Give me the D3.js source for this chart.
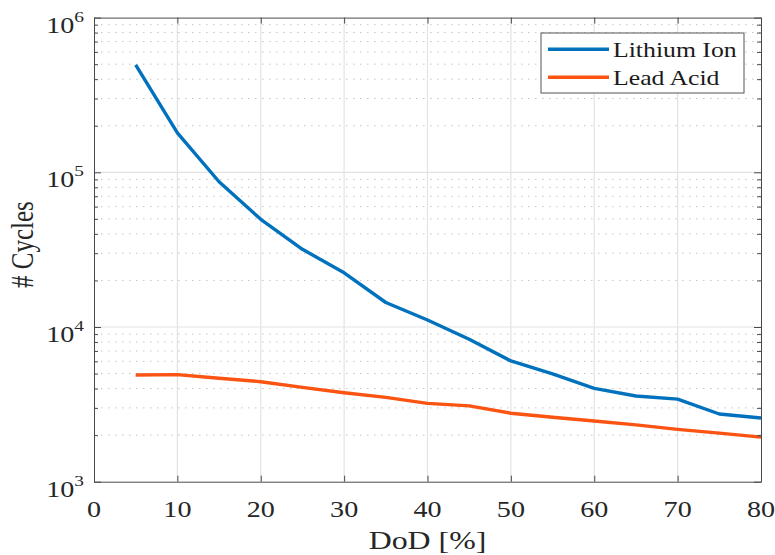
<!DOCTYPE html>
<html>
<head>
<meta charset="utf-8">
<script src="https://cdn.jsdelivr.net/npm/d3@7"></script>
<style>
  body { margin: 0; background: #fff; }
  text { font-family: "Liberation Serif", "Times New Roman", serif; fill: #262626; }
</style>
</head>
<body>
<div id="chart"></div>
<script>
// data
const dod = [5, 10, 15, 20, 25, 30, 35, 40, 45, 50, 55, 60, 65, 70, 75, 80];
const lithiumIon = [494000, 180000, 86900, 49700, 31800, 22400, 14400, 11100, 8330, 6030, 4970, 4010, 3580, 3420, 2740, 2580];
const leadAcid = [4900, 4920, 4660, 4430, 4070, 3760, 3510, 3210, 3090, 2770, 2610, 2470, 2330, 2180, 2060, 1940];
const seriesNames = ["Lithium Ion", "Lead Acid"];
const xTicks = [0, 10, 20, 30, 40, 50, 60, 70, 80];
const yTicks = [1e3, 1e4, 1e5, 1e6];
const yExponents = ["3", "4", "5", "6"];

const W = 775, H = 555;
const plotL = 94, plotR = 761, plotT = 17.6, plotB = 481.7;
const sx = 1.25; // text in the picture is stretched sideways
const colors = ["#0072BD", "#FA5312"];

const svg = d3.select("#chart").append("svg")
  .attr("width", W)
  .attr("height", H);

const x = d3.scaleLinear().domain([0, 80]).range([plotL, plotR]);
const y = d3.scaleLog().domain([1e3, 1e6]).range([plotB, plotT]);

// minor values 2..9 x 10^k
const minor = [];
for (let k = 3; k < 6; k++) {
  for (let m = 2; m <= 9; m++) minor.push(m * Math.pow(10, k));
}

// grid
const grid = svg.append("g");
grid.selectAll(".ymin").data(minor).enter().append("line")
  .attr("x1", plotL).attr("x2", plotR)
  .attr("y1", d => y(d)).attr("y2", d => y(d))
  .attr("stroke", "#c4c4c4").attr("stroke-width", 1)
  .attr("stroke-dasharray", "1.5,5.5");
grid.selectAll(".ymaj").data(yTicks.slice(1, -1)).enter().append("line")
  .attr("x1", plotL).attr("x2", plotR)
  .attr("y1", d => y(d)).attr("y2", d => y(d))
  .attr("stroke", "#e3e3e3").attr("stroke-width", 1.2);
grid.selectAll(".xmaj").data(xTicks.slice(1, -1)).enter().append("line")
  .attr("y1", plotT).attr("y2", plotB)
  .attr("x1", d => x(d)).attr("x2", d => x(d))
  .attr("stroke", "#e3e3e3").attr("stroke-width", 1.2);

// series
const line = d3.line()
  .x((d, i) => x(dod[i]))
  .y(d => y(d));

[lithiumIon, leadAcid].forEach((vals, i) => {
  svg.append("path")
    .datum(vals)
    .attr("d", line)
    .attr("fill", "none")
    .attr("stroke", colors[i])
    .attr("stroke-width", 3.4)
    .attr("stroke-linejoin", "round");
});

// axes with inward ticks on all four sides
const axisColor = "#4a4a4a";
function styleAxis(g) {
  g.select(".domain").attr("stroke", axisColor);
  g.selectAll(".tick line").attr("stroke", axisColor);
}
svg.append("g").attr("transform", `translate(0,${plotB})`)
  .call(d3.axisTop(x).tickValues(xTicks).tickSize(6).tickSizeOuter(0).tickFormat(""))
  .call(styleAxis);
svg.append("g").attr("transform", `translate(0,${plotT})`)
  .call(d3.axisBottom(x).tickValues(xTicks).tickSize(6).tickSizeOuter(0).tickFormat(""))
  .call(styleAxis);
svg.append("g").attr("transform", `translate(${plotL},0)`)
  .call(d3.axisRight(y).tickValues(yTicks).tickSize(7).tickSizeOuter(0).tickFormat(""))
  .call(styleAxis);
svg.append("g").attr("transform", `translate(${plotL},0)`)
  .call(d3.axisRight(y).tickValues(minor).tickSize(4).tickSizeOuter(0).tickFormat(""))
  .call(styleAxis);
svg.append("g").attr("transform", `translate(${plotR},0)`)
  .call(d3.axisLeft(y).tickValues(yTicks).tickSize(7).tickSizeOuter(0).tickFormat(""))
  .call(styleAxis);
svg.append("g").attr("transform", `translate(${plotR},0)`)
  .call(d3.axisLeft(y).tickValues(minor).tickSize(4).tickSizeOuter(0).tickFormat(""))
  .call(styleAxis);

// tick labels
svg.selectAll(".xlab").data(xTicks).enter().append("text")
  .attr("transform", d => `translate(${x(d)},517) scale(${sx},1)`)
  .attr("text-anchor", "middle")
  .style("font-size", "22.5px")
  .text(d => d);

const ylab = svg.selectAll(".ylab").data(yTicks).enter().append("text")
  .attr("transform", d => `translate(84,${y(d) + 15}) scale(${sx},1)`)
  .attr("text-anchor", "end")
  .style("font-size", "22.5px");
ylab.append("tspan").text("10");
ylab.append("tspan")
  .attr("dy", -11)
  .style("font-size", "15.5px")
  .text((d, i) => yExponents[i]);

// axis titles
svg.append("text")
  .attr("transform", `translate(${(plotL + plotR) / 2},549) scale(${sx},1)`)
  .attr("text-anchor", "middle")
  .style("font-size", "25.5px")
  .text("DoD [%]");

svg.append("text")
  .attr("transform", `translate(33,${(plotT + plotB) / 2 - 5}) scale(1.3,1) rotate(-90)`)
  .attr("text-anchor", "middle")
  .style("font-size", "25px")
  .text("# Cycles");

// legend
const legend = svg.append("g");
legend.append("rect")
  .attr("x", 541).attr("y", 33)
  .attr("width", 203).attr("height", 60)
  .attr("fill", "#fff")
  .attr("stroke", "#555").attr("stroke-width", 1);
seriesNames.forEach((name, i) => {
  const ly = 49.3 + i * 28;
  legend.append("line")
    .attr("x1", 548).attr("x2", 609)
    .attr("y1", ly).attr("y2", ly)
    .attr("stroke", colors[i]).attr("stroke-width", 3.4);
  legend.append("text")
    .attr("transform", `translate(613,${ly + 8}) scale(1.17,1)`)
    .style("font-size", "22px")
    .style("fill", "#1a1a1a")
    .text(name);
});
</script>
</body>
</html>
